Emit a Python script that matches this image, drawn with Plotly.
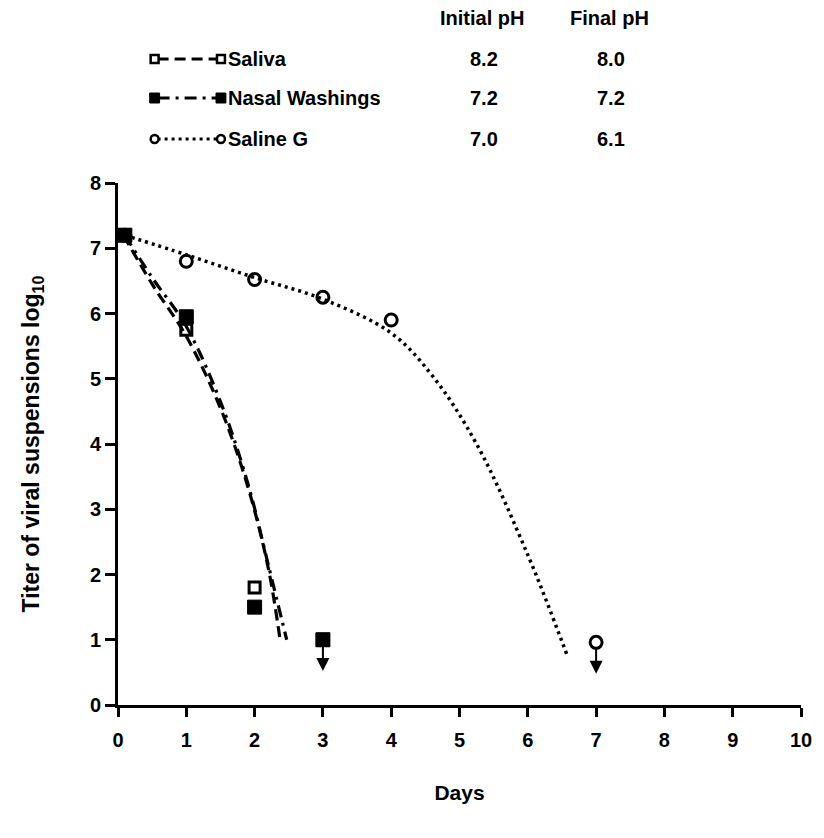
import plotly.graph_objects as go

# Observed titers (log10) by day
days_saliva = [0.1, 1, 2, 3]
titer_saliva = [7.2, 5.75, 1.8, 1.0]
days_nasal = [0.1, 1, 2, 3]
titer_nasal = [7.2, 5.95, 1.5, 1.0]
days_saline = [0.1, 1, 2, 3, 4, 7]
titer_saline = [7.2, 6.8, 6.52, 6.25, 5.9, 0.96]

# Fitted decay curves (knots)
fit_saliva_x = [0.08, 0.5, 1.0, 1.5, 1.9, 2.2, 2.38]
fit_saliva_y = [7.2, 6.45, 5.65, 4.55, 3.35, 2.1, 0.95]
fit_nasal_x = [0.1, 0.5, 1.0, 1.5, 1.9, 2.2, 2.47]
fit_nasal_y = [7.2, 6.55, 5.8, 4.65, 3.4, 2.15, 1.0]
fit_saline_x = [0.1, 1, 2, 3, 4, 4.6, 5.25, 6, 6.58]
fit_saline_y = [7.2, 6.9, 6.55, 6.22, 5.7, 5.05, 4.0, 2.3, 0.75]

# Below-detection points (arrows)
below_days = [3, 7]
below_titer = [1.0, 0.96]

# Legend table
series_names = ["Saliva", "Nasal Washings", "Saline G"]
initial_ph = ["8.2", "7.2", "7.0"]
final_ph = ["8.0", "7.2", "6.1"]

FONT = "Liberation Sans"
BLACK = "#000000"

DASH_SALIVA = "11px,6px"
DASH_NASAL = "12px,6px,3px,6px"
DASH_SALINE = "3px,4px"

fig = go.Figure()

fig.add_trace(go.Scatter(x=fit_saliva_x, y=fit_saliva_y, mode="lines",
                         line=dict(color=BLACK, width=3.2, dash=DASH_SALIVA, shape="spline"),
                         hoverinfo="skip"))
fig.add_trace(go.Scatter(x=fit_nasal_x, y=fit_nasal_y, mode="lines",
                         line=dict(color=BLACK, width=3.2, dash=DASH_NASAL, shape="spline"),
                         hoverinfo="skip"))
fig.add_trace(go.Scatter(x=fit_saline_x, y=fit_saline_y, mode="lines",
                         line=dict(color=BLACK, width=3.5, dash=DASH_SALINE, shape="spline"),
                         hoverinfo="skip"))

fig.add_trace(go.Scatter(x=days_saliva, y=titer_saliva, mode="markers", cliponaxis=False,
                         marker=dict(symbol="square-open", size=11, color=BLACK,
                                     line=dict(width=3, color=BLACK))))
fig.add_trace(go.Scatter(x=days_nasal, y=titer_nasal, mode="markers", cliponaxis=False,
                         marker=dict(symbol="square", size=14, color=BLACK,
                                     line=dict(width=1, color=BLACK))))
fig.add_trace(go.Scatter(x=days_saline, y=titer_saline, mode="markers", cliponaxis=False,
                         marker=dict(symbol="circle-open", size=12, color=BLACK,
                                     line=dict(width=3, color=BLACK))))

annotations = []
for d, t in zip(below_days, below_titer):
    annotations.append(dict(x=d, y=t - 0.48, ax=d, ay=t - 0.08, xref="x", yref="y",
                            axref="x", ayref="y", text="", showarrow=True,
                            arrowhead=2, arrowsize=1.3, arrowwidth=2, arrowcolor=BLACK))

# Legend table placed in pixel-like paper coordinates
X0, X1, Y0, Y1 = 118, 808, 705, 183


def px(xp):
    return (xp - X0) / (X1 - X0)


def py(yp):
    return (Y0 - yp) / (Y0 - Y1)


tfont = dict(family=FONT, size=20, color=BLACK)
annotations.append(dict(x=px(486), y=py(18), xref="paper", yref="paper", text="<b>Initial pH</b>",
                        showarrow=False, font=tfont, xanchor="center", yanchor="middle"))
annotations.append(dict(x=px(615), y=py(18), xref="paper", yref="paper", text="<b>Final pH</b>",
                        showarrow=False, font=tfont, xanchor="center", yanchor="middle"))

row_y = [59, 98, 139]
dashes = [DASH_SALIVA, DASH_NASAL, DASH_SALINE]
shapes = []
for i, name in enumerate(series_names):
    yy = py(row_y[i])
    annotations.append(dict(x=px(227), y=yy, xref="paper", yref="paper", text=f"<b>{name}</b>",
                            showarrow=False, font=tfont, xanchor="left", yanchor="middle"))
    annotations.append(dict(x=px(488), y=yy, xref="paper", yref="paper", text=f"<b>{initial_ph[i]}</b>",
                            showarrow=False, font=tfont, xanchor="center", yanchor="middle"))
    annotations.append(dict(x=px(616), y=yy, xref="paper", yref="paper", text=f"<b>{final_ph[i]}</b>",
                            showarrow=False, font=tfont, xanchor="center", yanchor="middle"))
    shapes.append(dict(type="line", xref="paper", yref="paper", x0=px(158), x1=px(219), y0=yy, y1=yy,
                       line=dict(color=BLACK, width=3, dash=dashes[i])))
    for cx in (155, 222):
        if i == 0:
            shapes.append(dict(type="rect", xref="paper", yref="paper",
                               x0=px(cx - 4), x1=px(cx + 4), y0=py(row_y[i] + 4), y1=py(row_y[i] - 4),
                               fillcolor="white", line=dict(color=BLACK, width=2.5)))
        elif i == 1:
            shapes.append(dict(type="rect", xref="paper", yref="paper",
                               x0=px(cx - 5), x1=px(cx + 5), y0=py(row_y[i] + 5), y1=py(row_y[i] - 5),
                               fillcolor=BLACK, line=dict(color=BLACK, width=1)))
        else:
            shapes.append(dict(type="circle", xref="paper", yref="paper",
                               x0=px(cx - 4), x1=px(cx + 4), y0=py(row_y[i] + 4), y1=py(row_y[i] - 4),
                               fillcolor="white", line=dict(color=BLACK, width=2.5)))

fig.update_layout(
    width=824, height=838,
    margin=dict(l=X0, r=824 - X1, t=Y1, b=838 - Y0),
    paper_bgcolor="white", plot_bgcolor="white",
    showlegend=False,
    annotations=annotations,
    shapes=shapes,
    font=dict(family=FONT, size=20, color=BLACK),
)

fig.update_xaxes(range=[0, 10], tickvals=list(range(11)),
                 ticktext=[f"<b>{v}</b>" for v in range(11)],
                 showline=True, linecolor=BLACK, linewidth=3, mirror=False,
                 ticks="outside", ticklen=9, tickwidth=3, tickcolor=BLACK,
                 ticklabelstandoff=6,
                 showgrid=False, zeroline=False,
                 tickfont=dict(family=FONT, size=20, color=BLACK),
                 title=dict(text="<b>Days</b>", standoff=36,
                            font=dict(family=FONT, size=21, color=BLACK)))
fig.update_yaxes(range=[0, 8], tickvals=list(range(9)),
                 ticktext=[f"<b>{v}</b>" for v in range(9)],
                 showline=True, linecolor=BLACK, linewidth=3, mirror=False,
                 ticks="outside", ticklen=10, tickwidth=3, tickcolor=BLACK,
                 showgrid=False, zeroline=False,
                 tickfont=dict(family=FONT, size=20, color=BLACK),
                 title=dict(text="<b>Titer of viral suspensions log<sub>10</sub></b>", standoff=44,
                            font=dict(family=FONT, size=23, color=BLACK)))

fig.write_html("out.html")
